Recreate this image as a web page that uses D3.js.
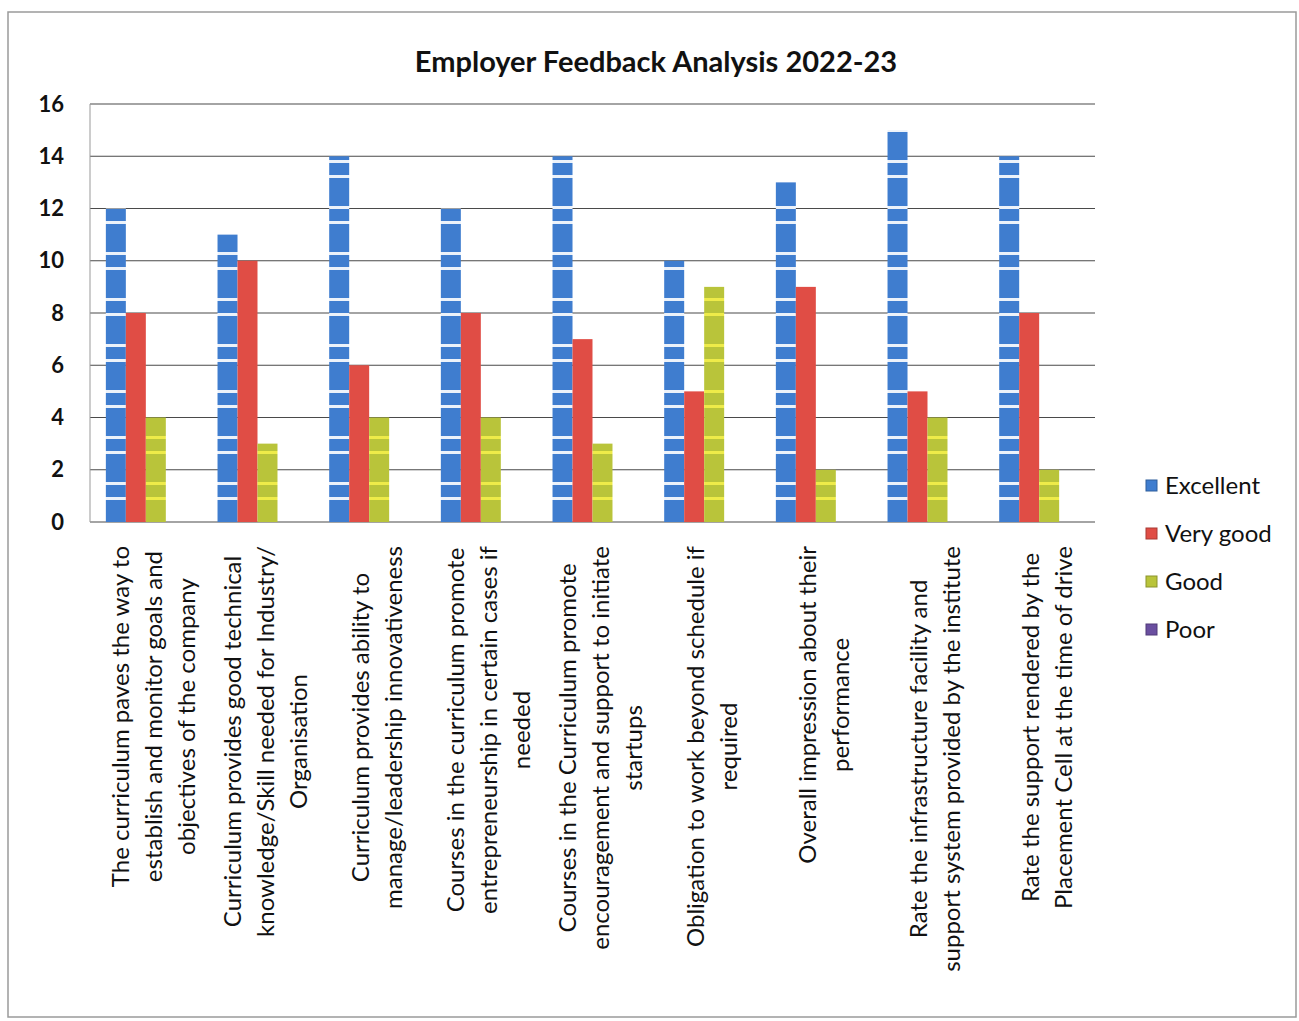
<!DOCTYPE html>
<html><head><meta charset="utf-8">
<script src="https://cdn.jsdelivr.net/npm/d3@7"></script>
<style>body{margin:0;background:#fff;} svg{display:block;}</style>
</head><body><svg id="c" width="1299" height="1021"></svg>
<script>
const title = "Employer Feedback Analysis 2022-23";
const categories = [
  ["The curriculum paves the way to","establish and monitor goals and","objectives of the company"],
  ["Curriculum provides good technical","knowledge/Skill needed for Industry/","Organisation"],
  ["Curriculum provides ability to","manage/leadership innovativeness"],
  ["Courses in the curriculum promote","entrepreneurship in certain cases if","needed"],
  ["Courses in the Curriculum promote","encouragement and support to initiate","startups"],
  ["Obligation to work beyond schedule if","required"],
  ["Overall impression about their","performance"],
  ["Rate the infrastructure facility and","support system provided by the institute"],
  ["Rate the support rendered by the","Placement Cell at the time of drive"]
];
const seriesNames = ["Excellent","Very good","Good","Poor"];
const excellent = [12,11,14,12,14,10,13,15,14];
const veryGood  = [8,10,6,8,7,5,9,5,8];
const good      = [4,3,4,4,3,9,2,4,2];
const poor      = [0,0,0,0,0,0,0,0,0];
const yTicks = [0,2,4,6,8,10,12,14,16];

const seriesValues = [excellent, veryGood, good, poor];
const colors = ["#3f7dcf","#e04d45","#b9c43a","#6a4fa0"];
const stripeColors = ["#ffffff","#ffffff","#f4f04a","#ffffff"];

const svg = d3.select("#c");
const W = 1299, H = 1021;
const mLeft = 90, mRight = 1095, mTop = 104, mBottom = 522;
const FONT = "Lato, 'Open Sans', sans-serif";

svg.append("rect").attr("x",0).attr("y",0).attr("width",W).attr("height",H).attr("fill","#fff");
svg.append("rect").attr("x",8).attr("y",12).attr("width",1288).attr("height",1005)
  .attr("fill","none").attr("stroke","#9a9a9a").attr("stroke-width",1.5);

// patterns
const defs = svg.append("defs");
seriesNames.forEach((s,i)=>{
  const p = defs.append("pattern").attr("id","pat"+i).attr("patternUnits","userSpaceOnUse")
    .attr("x",0).attr("y",mBottom).attr("width",40).attr("height",46);
  p.append("rect").attr("width",40).attr("height",46).attr("fill",colors[i]);
  if (i===0 || i===2) {
    p.append("rect").attr("y",6).attr("width",40).attr("height",3).attr("fill",stripeColors[i]).attr("opacity",0.9);
    p.append("rect").attr("y",21).attr("width",40).attr("height",3).attr("fill",stripeColors[i]).attr("opacity",0.9);
  }
});

const x0 = d3.scaleBand().domain(d3.range(categories.length)).range([mLeft,mRight])
  .paddingInner(0.284).paddingOuter(0.142);
const x1 = d3.scaleBand().domain(d3.range(seriesNames.length)).range([0,x0.bandwidth()]);
const y = d3.scaleLinear().domain([0,16]).range([mBottom,mTop]);

// gridlines
svg.append("g").selectAll("line").data(yTicks).join("line")
  .attr("x1",mLeft).attr("x2",mRight).attr("y1",d=>y(d)).attr("y2",d=>y(d))
  .attr("stroke","#4a4a4a").attr("stroke-width",1.2);
svg.append("line").attr("x1",mLeft).attr("x2",mLeft).attr("y1",mTop).attr("y2",mBottom)
  .attr("stroke","#999").attr("stroke-width",1);

// y axis
const yAxis = d3.axisLeft(y).tickValues(yTicks).tickSize(0).tickPadding(26);
const ga = svg.append("g").attr("transform",`translate(${mLeft},0)`).call(yAxis);
ga.select(".domain").remove();
ga.selectAll("text").attr("font-family",FONT)
  .attr("font-size",22).attr("font-weight","bold").attr("fill","#111");

// bars
const groups = svg.append("g").selectAll("g").data(categories).join("g")
  .attr("transform",(d,i)=>`translate(${x0(i)},0)`);
groups.selectAll("rect").data((d,i)=>seriesValues.map((v,s)=>({s, v:v[i]}))).join("rect")
  .attr("x",d=>x1(d.s)).attr("width",x1.bandwidth())
  .attr("y",d=>y(d.v)).attr("height",d=>y(0)-y(d.v))
  .attr("fill",d=>`url(#pat${d.s})`);

// category labels
const lblFont = 24, lineH = 33, labelTop = 546;
const measure = svg.append("text").attr("font-family",FONT).attr("font-size",lblFont);
categories.forEach((lines,i)=>{
  let maxL = 0;
  lines.forEach(l=>{ measure.text(l); maxL = Math.max(maxL, measure.node().getComputedTextLength()); });
  const cx = x0(i) + x0.bandwidth()/2 + 8;
  const cy = labelTop + maxL/2;
  const t = svg.append("text").attr("transform",`translate(${cx},${cy}) rotate(-90)`)
    .attr("font-family",FONT).attr("font-size",lblFont).attr("fill","#111")
    .attr("text-anchor","middle");
  const n = lines.length;
  lines.forEach((l,k)=>{
    t.append("tspan").attr("x",0).attr("y",(k-(n-1)/2)*lineH + lblFont*0.35).text(l);
  });
});
measure.remove();

// title
svg.append("text").attr("x",656).attr("y",72).attr("text-anchor","middle")
  .attr("font-family",FONT).attr("font-size",29).attr("font-weight","bold")
  .attr("fill","#111").text(title);

// legend
const leg = svg.append("g").selectAll("g").data(seriesNames).join("g")
  .attr("transform",(d,i)=>`translate(1146,${486 + i*48})`);
leg.append("rect").attr("x",0).attr("y",-6).attr("width",11).attr("height",11)
  .attr("fill",(d,i)=>colors[i]).attr("stroke",(d,i)=>d3.color(colors[i]).darker(0.8)).attr("stroke-width",1);
leg.append("text").attr("x",19).attr("y",0).attr("dy","0.35em")
  .attr("font-family",FONT).attr("font-size",24).attr("fill","#111")
  .text(d=>d);
</script></body></html>
